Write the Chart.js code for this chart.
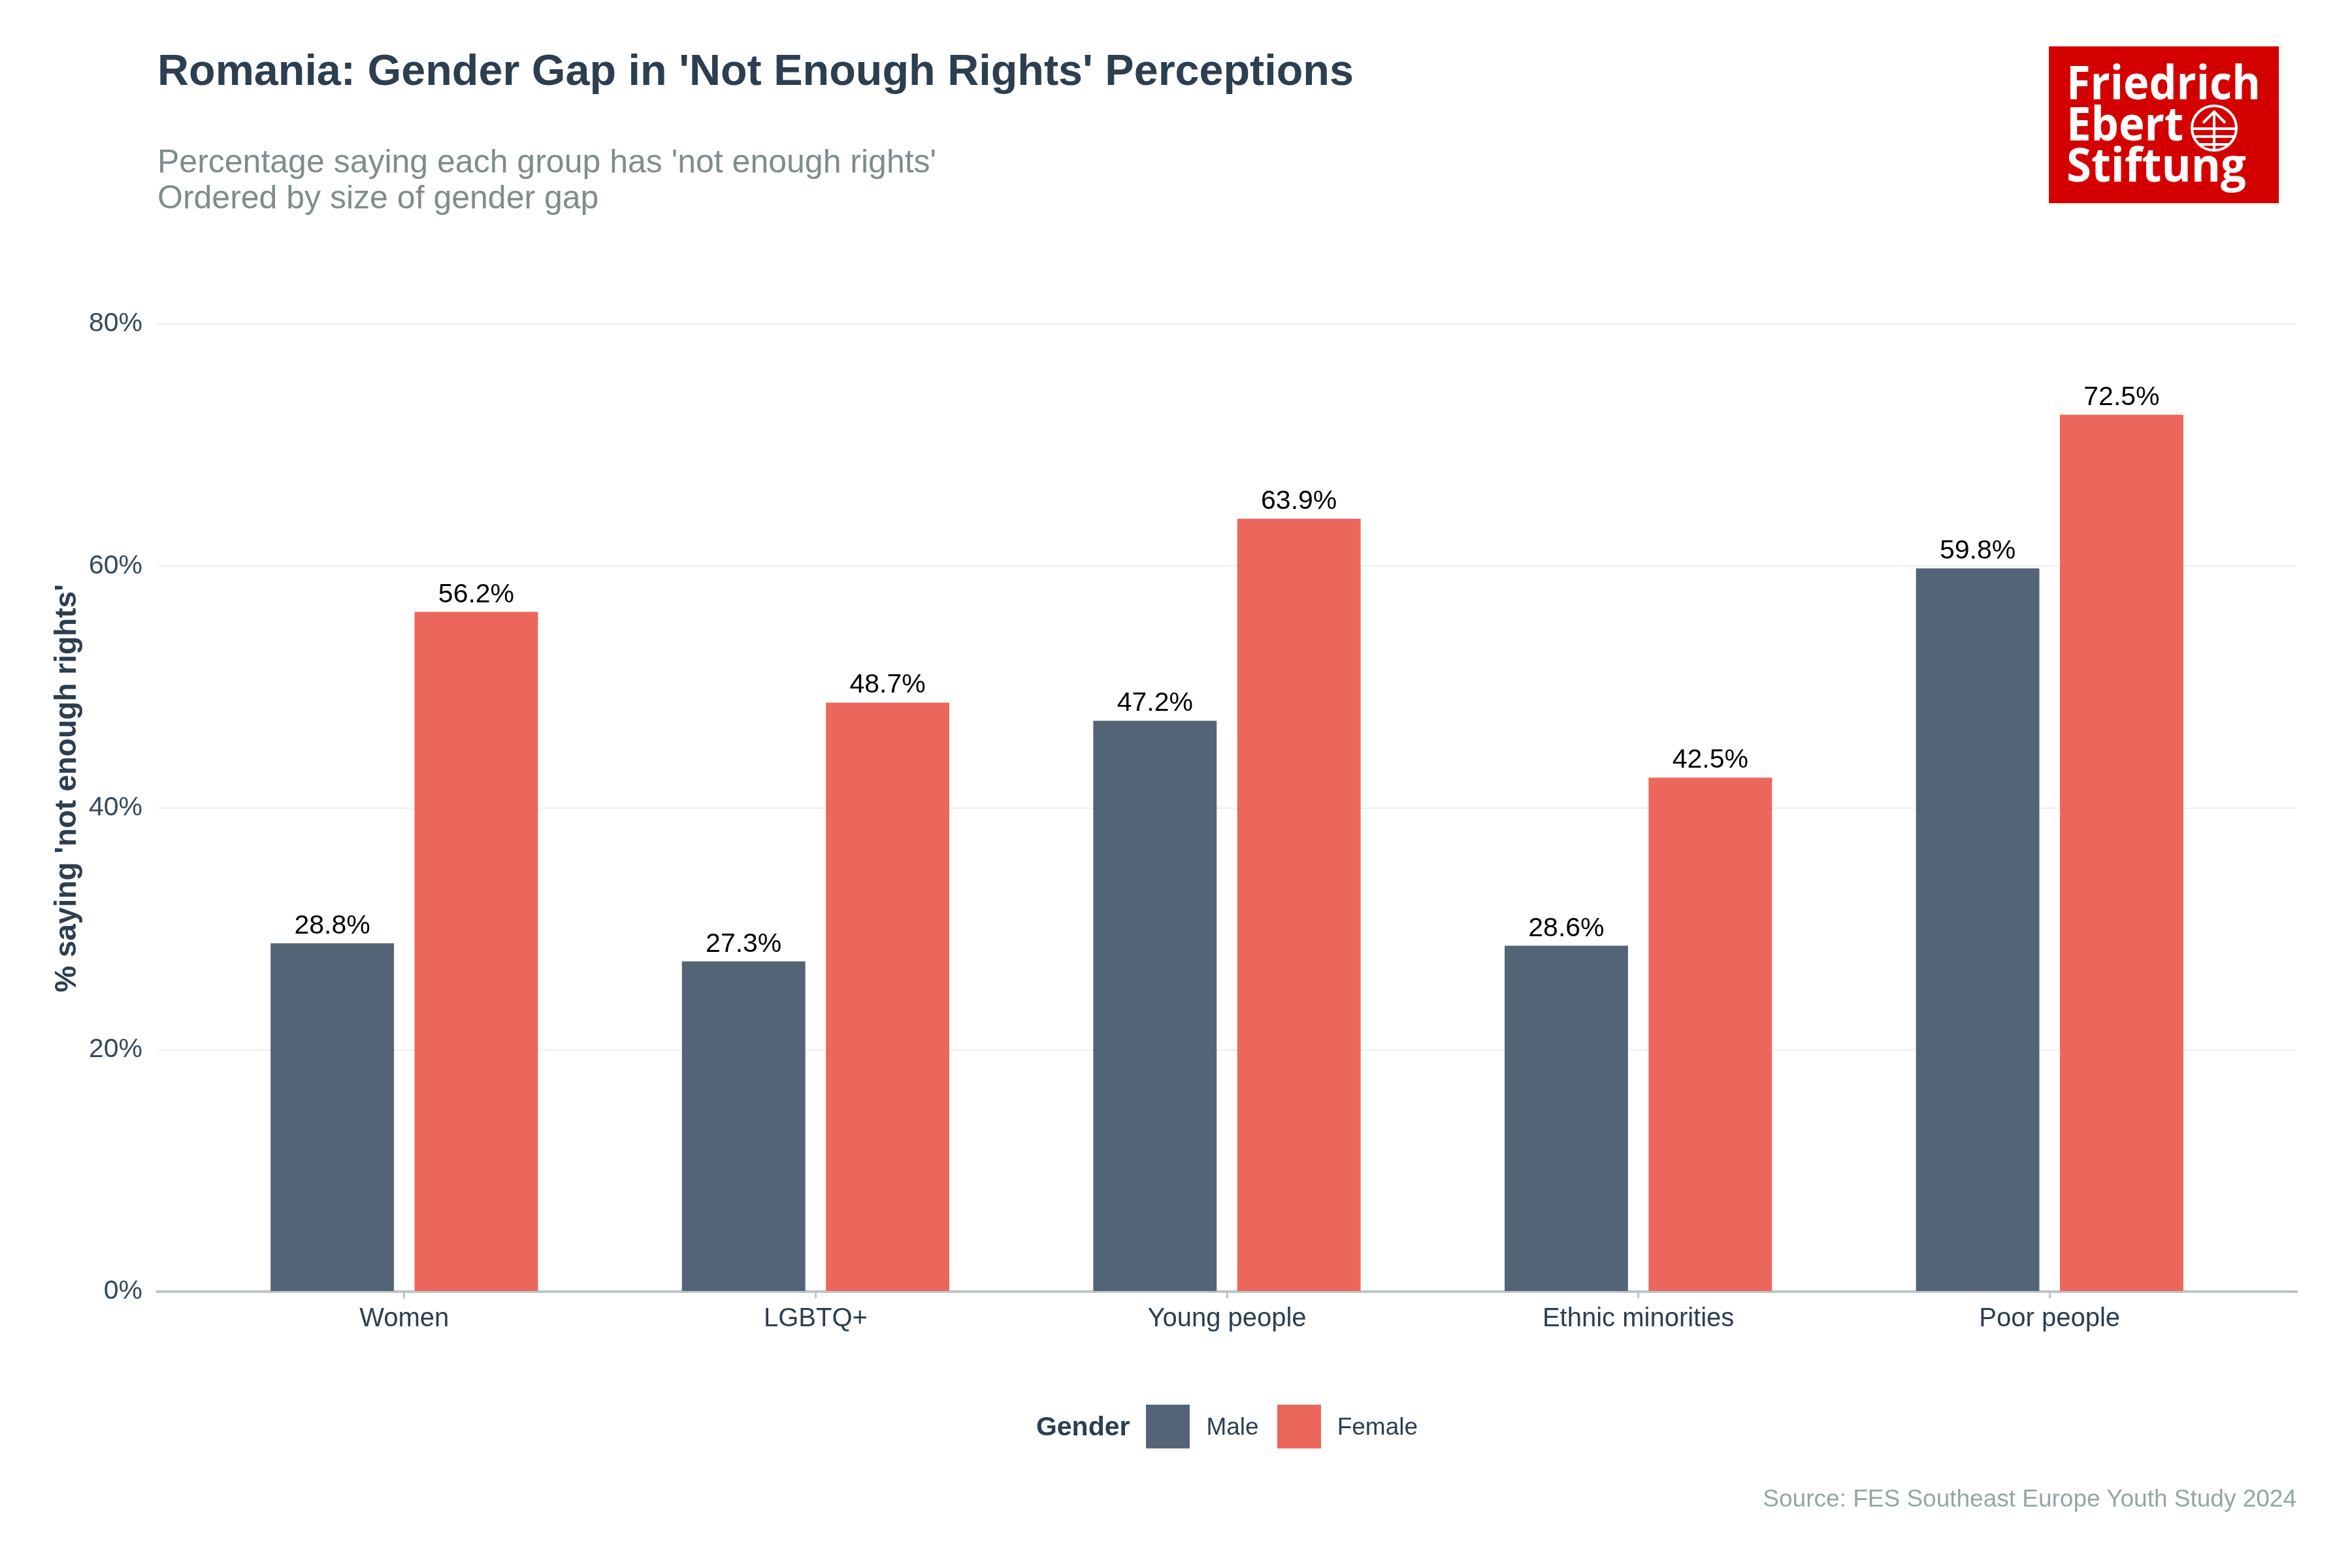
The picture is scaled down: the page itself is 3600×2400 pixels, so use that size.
<!DOCTYPE html>
<html>
<head>
<meta charset="utf-8">
<script src="https://cdn.jsdelivr.net/npm/chart.js@4.4.1/dist/chart.umd.min.js"></script>
<style>
  html, body { margin: 0; padding: 0; background: #fff; }
  #page { position: relative; width: 3600px; height: 2400px; overflow: hidden; font-family: "Liberation Sans", Arial, sans-serif; }
  #chart { position: absolute; left: 0; top: 0; }
  .title { position: absolute; left: 241px; top: 68px; font-size: 66.5px; line-height: 79px; font-weight: bold; color: #2c3e50; white-space: nowrap; }
  .subtitle { position: absolute; left: 241px; top: 220px; font-size: 50px; line-height: 55px; color: #7f8c8d; white-space: nowrap; }
  .logo { position: absolute; left: 3136px; top: 71px; }
  .legend { position: absolute; left: 241px; width: 3274px; top: 2150px; height: 67px; display: flex; justify-content: center; align-items: center; color: #2c3e50; font-size: 37px; }
  .legend .lt { font-weight: bold; font-size: 41px; margin-right: 25px; }
  .legend .sw { width: 67px; height: 67px; margin-right: 25px; }
  .legend .lab { margin-right: 28px; }
  .source { position: absolute; right: 85px; top: 2272px; font-size: 37px; line-height: 44px; color: #95a5a6; white-space: nowrap; }
</style>
</head>
<body>
<div id="page">
  <canvas id="chart" width="3600" height="2400"></canvas>
  <div class="title">Romania: Gender Gap in 'Not Enough Rights' Perceptions</div>
  <div class="subtitle">Percentage saying each group has 'not enough rights'<br>Ordered by size of gender gap</div>
  <svg class="logo" width="352" height="240" viewBox="0 0 352 240">
    <rect x="0" y="0" width="352" height="240" fill="#d40000"/>
    <g fill="#fff" font-family="'Open Sans', 'Noto Sans', sans-serif" font-weight="bold" font-size="72">
      <text x="27" y="81" textLength="297" lengthAdjust="spacingAndGlyphs">Friedrich</text>
      <text x="27" y="144" textLength="179" lengthAdjust="spacingAndGlyphs">Ebert</text>
      <text x="27" y="207" textLength="275" lengthAdjust="spacingAndGlyphs">Stiftung</text>
    </g>
    <g stroke="#fff" stroke-width="4" fill="none">
      <circle cx="253" cy="125" r="34"/>
      <line x1="253" y1="99" x2="253" y2="159"/>
      <polyline points="236,117 253,100 270,117"/>
      <line x1="219" y1="126" x2="287" y2="126"/>
      <line x1="221" y1="138" x2="285" y2="138"/>
      <line x1="229" y1="150" x2="277" y2="150"/>
    </g>
  </svg>
  <div class="legend">
    <span class="lt">Gender</span>
    <span class="sw" id="swMale"></span><span class="lab">Male</span>
    <span class="sw" id="swFemale"></span><span>Female</span>
  </div>
  <div class="source">Source: FES Southeast Europe Youth Study 2024</div>
</div>
<script>
var categories = ['Women', 'LGBTQ+', 'Young people', 'Ethnic minorities', 'Poor people'];
var maleValues = [28.8, 27.3, 47.2, 28.6, 59.8];
var femaleValues = [56.2, 48.7, 63.9, 42.5, 72.5];
var yTicks = [0, 20, 40, 60, 80];
var yTitle = "% saying 'not enough rights'";

var maleColor = '#536476';
var femaleColor = '#ec675b';
var textDark = '#2c3e50';

document.getElementById('swMale').style.background = maleColor;
document.getElementById('swFemale').style.background = femaleColor;

function toPoints(values) {
    return values.map(function(v, i) {
        return {x: i, y: v};
    });
}

// value labels above each bar
var barLabels = {
    id: 'barLabels',
    afterDatasetsDraw: function(chart) {
        var ctx = chart.ctx;
        ctx.save();
        ctx.font = '41px "Liberation Sans", Arial, sans-serif';
        ctx.fillStyle = '#000';
        ctx.textAlign = 'center';
        ctx.textBaseline = 'alphabetic';
        chart.data.datasets.forEach(function(ds, di) {
            chart.getDatasetMeta(di).data.forEach(function(bar, i) {
                ctx.fillText(ds.data[i].y.toFixed(1) + '%', bar.x, bar.y - 15);
            });
        });
        ctx.restore();
    }
};

// y axis title, sits a little above the panel centre like the ggplot original
var yAxisTitle = {
    id: 'yAxisTitle',
    afterDraw: function(chart) {
        var ctx = chart.ctx;
        var area = chart.chartArea;
        ctx.save();
        ctx.translate(103, (area.top + area.bottom) / 2 - 30);
        ctx.rotate(-Math.PI / 2);
        ctx.font = 'bold 46px "Liberation Sans", Arial, sans-serif';
        ctx.fillStyle = textDark;
        ctx.textAlign = 'center';
        ctx.textBaseline = 'middle';
        ctx.fillText(yTitle, 0, 0);
        ctx.restore();
    }
};

var ctx = document.getElementById('chart').getContext('2d');

var chart = new Chart(ctx, {
    type: 'bar',
    data: {
        datasets: [{
            label: 'Male',
            data: toPoints(maleValues),
            backgroundColor: maleColor
        }, {
            label: 'Female',
            data: toPoints(femaleValues),
            backgroundColor: femaleColor
        }]
    },
    options: {
        responsive: false,
        animation: false,
        devicePixelRatio: 1,
        categoryPercentage: 0.7,
        barPercentage: 0.857,
        layout: {
            padding: {left: 60, right: 85, top: 496, bottom: 323}
        },
        plugins: {
            legend: {display: false},
            tooltip: {enabled: false}
        },
        scales: {
            x: {
                type: 'linear',
                min: -0.6,
                max: 4.6,
                offset: false,
                afterBuildTicks: function(scale) {
                    scale.ticks = categories.map(function(c, i) { return {value: i}; });
                },
                afterFit: function(scale) { scale.height = 100; },
                ticks: {
                    autoSkip: false,
                    maxRotation: 0,
                    padding: 8,
                    color: textDark,
                    font: {family: '"Liberation Sans", Arial, sans-serif', size: 40},
                    callback: function(v) { return categories[v]; }
                },
                grid: {
                    offset: false,
                    drawOnChartArea: false,
                    drawTicks: true,
                    tickLength: 10,
                    color: '#bdc3c7',
                    lineWidth: 3
                },
                border: {display: true, color: '#bdc3c7', width: 4}
            },
            y: {
                min: 0,
                max: 80,
                afterBuildTicks: function(scale) {
                    scale.ticks = yTicks.map(function(v) { return {value: v}; });
                },
                afterFit: function(scale) { scale.width = 181; },
                ticks: {
                    padding: 23,
                    color: '#34495e',
                    font: {family: '"Liberation Sans", Arial, sans-serif', size: 41},
                    callback: function(v) { return v + '%'; }
                },
                grid: {
                    color: '#ecf0f1',
                    lineWidth: 2,
                    drawTicks: false
                },
                border: {display: false}
            }
        }
    },
    plugins: [barLabels, yAxisTitle]
});
</script>
</body>
</html>
